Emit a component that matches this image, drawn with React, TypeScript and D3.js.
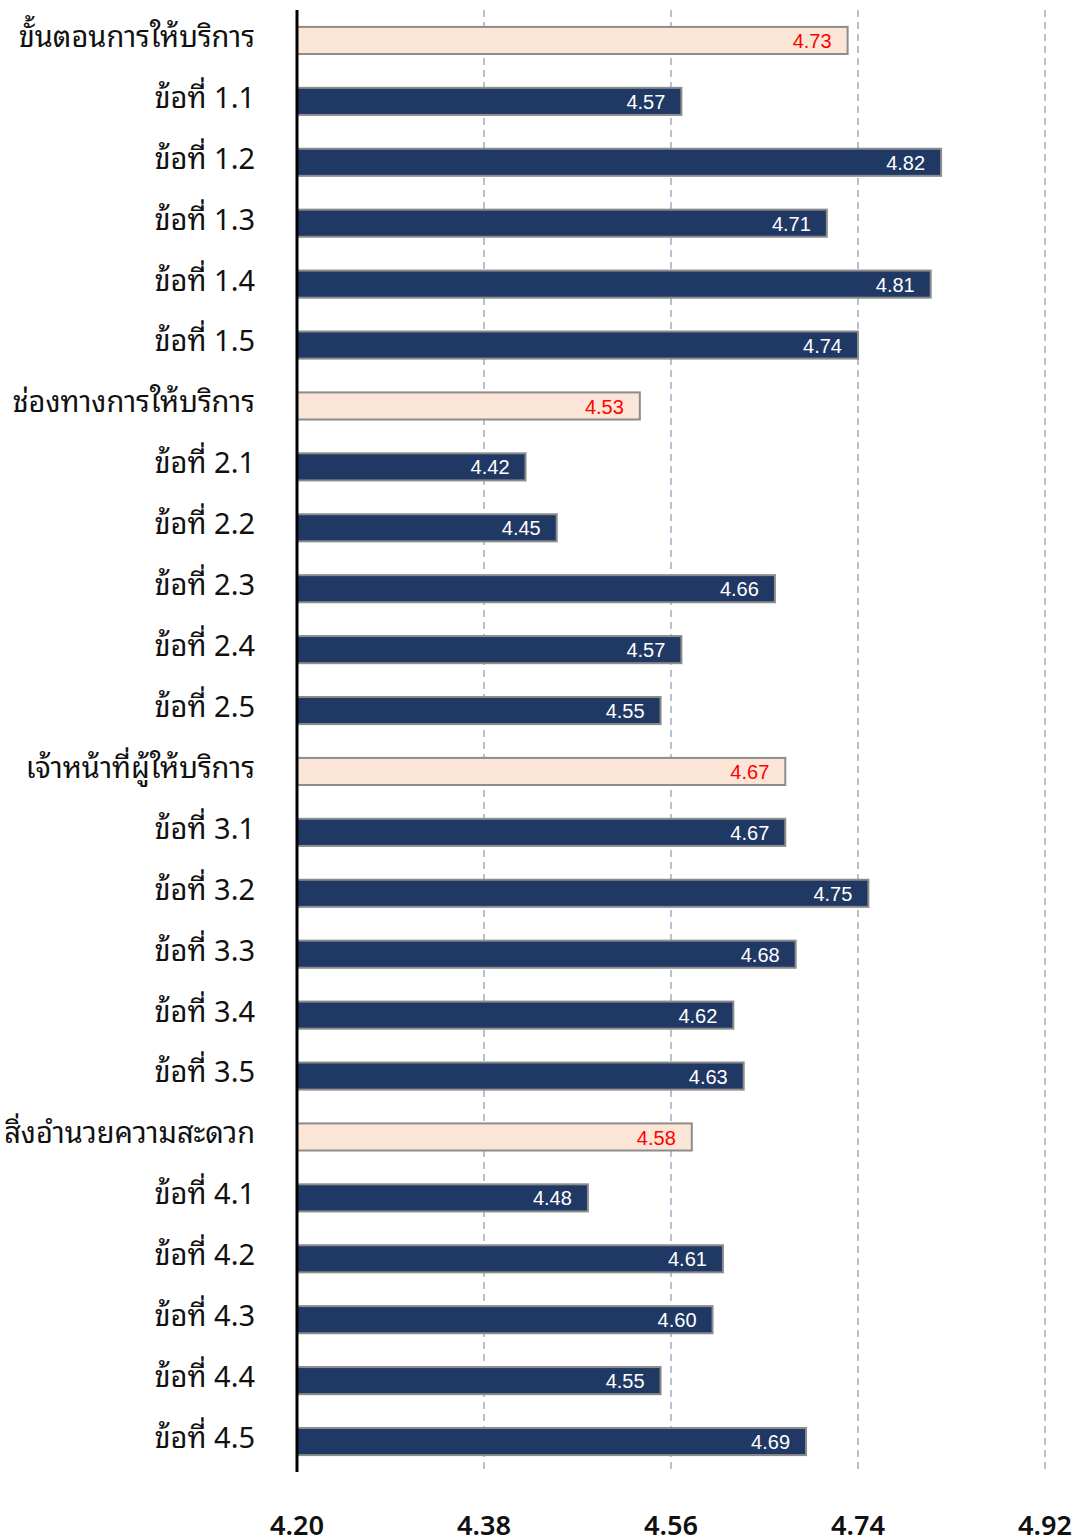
import * as d3 from "d3";

const categories = [
  "ขั้นตอนการให้บริการ", "ข้อที่ 1.1", "ข้อที่ 1.2", "ข้อที่ 1.3", "ข้อที่ 1.4", "ข้อที่ 1.5",
  "ช่องทางการให้บริการ", "ข้อที่ 2.1", "ข้อที่ 2.2", "ข้อที่ 2.3", "ข้อที่ 2.4", "ข้อที่ 2.5",
  "เจ้าหน้าที่ผู้ให้บริการ", "ข้อที่ 3.1", "ข้อที่ 3.2", "ข้อที่ 3.3", "ข้อที่ 3.4", "ข้อที่ 3.5",
  "สิ่งอำนวยความสะดวก", "ข้อที่ 4.1", "ข้อที่ 4.2", "ข้อที่ 4.3", "ข้อที่ 4.4", "ข้อที่ 4.5",
];
const values = [
  4.73, 4.57, 4.82, 4.71, 4.81, 4.74,
  4.53, 4.42, 4.45, 4.66, 4.57, 4.55,
  4.67, 4.67, 4.75, 4.68, 4.62, 4.63,
  4.58, 4.48, 4.61, 4.60, 4.55, 4.69,
];
const groupHeads = [0, 6, 12, 18];
const ticks = [4.2, 4.38, 4.56, 4.74, 4.92];

const W = 1081;
const H = 1539;
const left = 297;
const right = 1045;
const top = 10;
const bottom = 1472;

const thai = "'Noto Sans Thai Looped', 'Noto Sans Thai', Tahoma, 'Noto Sans', 'DejaVu Sans', sans-serif";
const narrow = "'Liberation Sans Narrow', 'Arial Narrow', 'Liberation Sans', Arial, sans-serif";

export default function App() {
  const x = d3.scaleLinear().domain([4.2, 4.92]).range([left, right]);
  const y = d3.scaleBand<number>().domain(d3.range(categories.length)).range([top, bottom]).paddingInner(0.555).paddingOuter(0.2775);
  const bh = y.bandwidth();

  return (
    <svg width={W} height={H} style={{ position: "absolute", left: 0, top: 0, background: "#fff" }}>
      {ticks.slice(1).map((t) => (
        <line key={t} x1={x(t)} x2={x(t)} y1={top} y2={bottom} stroke="#a3acc0" strokeWidth={1.5} strokeDasharray="7,5" />
      ))}
      {values.map((v, i) => {
        const head = groupHeads.includes(i);
        const y0 = y(i)!;
        return (
          <g key={i}>
            <rect x={x(4.2)} y={y0} width={x(v) - x(4.2)} height={bh}
              fill={head ? "#fbe5d6" : "#203864"} stroke="#8c8c8c" strokeWidth={2} />
            <text x={x(v) - 16} y={y0 + bh / 2} dy="0.38em" textAnchor="end"
              fontFamily={narrow} fontSize={20} fill={head ? "#ff0000" : "#ffffff"}>
              {v.toFixed(2)}
            </text>
            <text x={255} y={y0 + bh / 2} dy="0.22em" textAnchor="end"
              fontFamily={thai} fontSize={29} fill="#111">
              {categories[i]}
            </text>
          </g>
        );
      })}
      <line x1={left} x2={left} y1={top} y2={bottom} stroke="#000" strokeWidth={3} />
      {ticks.map((t) => (
        <text key={t} x={x(t)} y={1525} dy="0.36em" textAnchor="middle"
          fontFamily={thai} fontSize={27} fontWeight={600} fill="#111">
          {t.toFixed(2)}
        </text>
      ))}
    </svg>
  );
}
